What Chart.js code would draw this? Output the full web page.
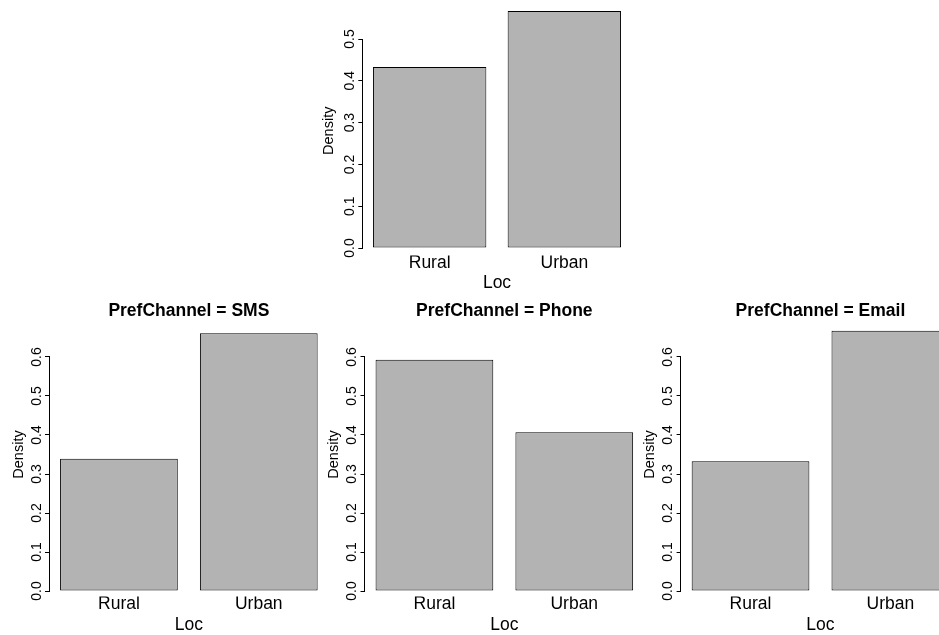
<!DOCTYPE html>
<html>
<head>
<meta charset="utf-8">
<script src="https://cdn.jsdelivr.net/npm/chart.js@4.4.1/dist/chart.umd.min.js"></script>
<style>
  html, body { margin: 0; padding: 0; width: 939px; height: 635px; overflow: hidden; background: #ffffff; }
  canvas { position: absolute; }
</style>
</head>
<body>
<canvas id="cTop"></canvas>
<canvas id="cSms"></canvas>
<canvas id="cPhone"></canvas>
<canvas id="cEmail"></canvas>
<script>
// ---------------- data ----------------
const locCategories = ['Rural', 'Urban'];
const overallDensity = [0.433, 0.567];
const smsDensity = [0.339, 0.661];
const phoneDensity = [0.593, 0.407];
const emailDensity = [0.333, 0.667];
const overallTicks = [0, 0.1, 0.2, 0.3, 0.4, 0.5];
const panelTicks = [0, 0.1, 0.2, 0.3, 0.4, 0.5, 0.6];
const panelTitles = ['PrefChannel = SMS', 'PrefChannel = Phone', 'PrefChannel = Email'];
const xAxisTitle = 'Loc';
const yAxisTitle = 'Density';

// ---------------- styling / layout ----------------
const FONT = "'Liberation Sans', Arial, Helvetica, sans-serif";
Chart.defaults.font.family = FONT;
Chart.defaults.color = '#000000';

// R-style axis line: spans from first to last tick only
const rAxisLine = {
  id: 'rAxisLine',
  afterDraw(chart) {
    const s = chart.scales.y;
    const t = s.ticks;
    if (!t.length) return;
    const ctx = chart.ctx;
    const x = Math.round(s.right - 0.5) + 0.5;
    const y1 = Math.round(s.getPixelForValue(t[0].value) - 0.5) + 0.5;
    const y2 = Math.round(s.getPixelForValue(t[t.length - 1].value) - 0.5) + 0.5;
    ctx.save();
    ctx.strokeStyle = '#000000';
    ctx.lineWidth = 1;
    ctx.lineCap = 'square';
    ctx.beginPath();
    ctx.moveTo(x, y1);
    ctx.lineTo(x, y2);
    ctx.stroke();
    ctx.restore();
  }
};

// box: canvas placement (integers) + target plot region (page px)
function makePanel(id, box, values, ticks, yMin, yMax, title) {
  const cv = document.getElementById(id);
  cv.width = box.cw; cv.height = box.ch;
  cv.style.left = box.cl + 'px'; cv.style.top = box.ct + 'px';
  cv.style.width = box.cw + 'px'; cv.style.height = box.ch + 'px';

  const canvasBottom = box.ct + box.ch;
  const canvasRight = box.cl + box.cw;
  const titleSize = 17.5, titleLH = titleSize * 1.2;
  const tickXSize = 17.5, tickXLH = tickXSize * 1.2;
  const labSize = 17.5, labLH = labSize * 1.2;
  const yLabSize = 14.5, yLabLH = yLabSize * 1.2;

  let layoutTop, titleOpts;
  if (title) {
    const tpTop = box.titleCy - titleLH / 2 - box.ct;
    const tpBottom = box.T - box.ct - tpTop - titleLH;
    layoutTop = 0;
    titleOpts = {
      display: true, text: title, fullSize: false,
      font: { family: FONT, size: titleSize, weight: 'bold' },
      color: '#000000',
      padding: { top: tpTop, bottom: tpBottom }
    };
  } else {
    layoutTop = box.T - box.ct;
    titleOpts = { display: false };
  }

  return new Chart(cv, {
    type: 'bar',
    data: {
      labels: locCategories,
      datasets: [{
        data: values,
        backgroundColor: '#B3B3B3',
        borderColor: '#000000',
        borderWidth: 1,
        borderSkipped: false,
        categoryPercentage: 1,
        barPercentage: 1 / 1.188
      }]
    },
    options: {
      responsive: false,
      animation: false,
      devicePixelRatio: 1,
      events: [],
      layout: { padding: { left: 0, top: layoutTop, right: canvasRight - box.R, bottom: 0 } },
      plugins: {
        legend: { display: false },
        tooltip: { enabled: false },
        title: titleOpts
      },
      scales: {
        x: {
          type: 'category',
          offset: true,
          grid: { display: false, drawTicks: false },
          border: { display: false },
          ticks: {
            font: { family: FONT, size: tickXSize },
            color: '#000000',
            padding: box.tickCy - box.B - tickXLH / 2,
            maxRotation: 0, minRotation: 0, autoSkip: false
          },
          title: {
            display: true, text: xAxisTitle, color: '#000000',
            font: { family: FONT, size: labSize },
            padding: { top: 0, bottom: canvasBottom - box.labCy - labLH / 2 }
          },
          afterFit(s) {
            s.height = canvasBottom - box.B;
            s.paddingLeft = 0; s.paddingRight = 0;
          }
        },
        y: {
          type: 'linear',
          min: yMin, max: yMax,
          grid: { display: true, drawOnChartArea: false, drawTicks: true, tickLength: 4, color: '#000000', lineWidth: 1 },
          border: { display: false },
          afterBuildTicks(s) { s.ticks = ticks.map(v => ({ value: v })); },
          ticks: {
            font: { family: FONT, size: 14 },
            color: '#000000',
            minRotation: 90, maxRotation: 90,
            crossAlign: 'center',
            padding: -1.4,
            autoSkip: false,
            callback: (v) => Number(v).toFixed(1)
          },
          title: {
            display: true, text: yAxisTitle, color: '#000000',
            font: { family: FONT, size: yLabSize },
            padding: { top: box.densityCx - box.cl - yLabLH / 2, bottom: 0 }
          },
          afterFit(s) {
            s.width = box.L - box.cl;
            s.paddingTop = 0; s.paddingBottom = 0;
            s.paddingLeft = 0; s.paddingRight = 0;
          }
        }
      }
    },
    plugins: [rAxisLine]
  });
}

// top panel (marginal)
makePanel('cTop',
  { cl: 300, ct: 0, cw: 332, ch: 295, L: 362.3, R: 631.7, T: 6.0, B: 255.5,
    densityCx: 328.8, tickCy: 263.3, labCy: 283.3 },
  overallDensity, overallTicks, -0.01794, 0.57895, null);

// bottom panels (conditional on PrefChannel)
const bottomBoxes = [
  { cl: 0,   ct: 290, cw: 329, ch: 345, L: 49.0,  R: 328.7, T: 312.5, B: 596.5 },
  { cl: 315, ct: 290, cw: 330, ch: 345, L: 364.5, R: 644.2, T: 312.5, B: 596.5 },
  { cl: 631, ct: 290, cw: 330, ch: 345, L: 680.6, R: 960.3, T: 312.5, B: 596.5 }
];
const panelValues = [smsDensity, phoneDensity, emailDensity];
const panelIds = ['cSms', 'cPhone', 'cEmail'];
bottomBoxes.forEach((b, i) => {
  b.densityCx = b.L - 30.2;
  b.tickCy = 604.5;
  b.labCy = 625;
  b.titleCy = 311.5;
  makePanel(panelIds[i], b, panelValues[i], panelTicks, -0.0141, 0.7141, panelTitles[i]);
});
</script>
</body>
</html>
